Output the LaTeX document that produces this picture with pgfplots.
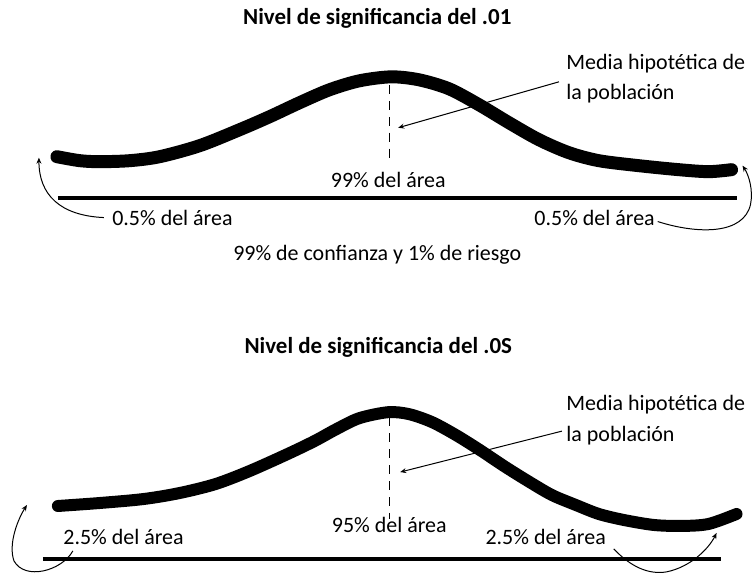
\documentclass[border=0pt]{standalone}
\usepackage{pgfplots}
\pgfplotsset{compat=1.18}
\usetikzlibrary{arrows.meta}
\usepackage{fontspec}
\setmainfont{Carlito}
\newcommand{\tx}{\fontsize{22}{26}\selectfont}
\newcommand{\ttl}{\fontsize{23}{27}\selectfont\bfseries}
\begin{document}
\begin{tikzpicture}
\begin{axis}[scale only axis, width=754pt, height=577pt,
  xmin=0, xmax=754, ymin=0, ymax=577, y dir=reverse,
  axis lines=none, clip=false]
\path (axis cs:0,0) (axis cs:754,577);
% ---------- top panel ----------
\node[font=\ttl] at (axis cs:378,18) {Nivel de significancia del .01};
\addplot[line width=13pt, smooth, line cap=round] coordinates {
(57,157) (80,161) (100,162) (130,161) (160,157) (200,146) (240,130) (270,117)
(300,103) (330,90) (360,81) (392,77) (420,80) (450,89) (480,105) (510,123)
(540,140) (570,153) (600,161) (640,166) (680,170) (710,172) (733,170)};
\addplot[line width=4pt] coordinates {(58,198) (738,198)};
\addplot[line width=1.3pt, dash pattern=on 9pt off 7pt] coordinates {(390,85) (390,162)};
\node[font=\tx] at (axis cs:389,180) {99\% del área};
\node[font=\tx, anchor=west] at (axis cs:109,218) {0.5\% del área};
\node[font=\tx, anchor=west] at (axis cs:532,218) {0.5\% del área};
\node[font=\tx, anchor=west] at (axis cs:564,64) {Media hipotética de};
\node[font=\tx, anchor=west] at (axis cs:564,94) {la población};
\draw[-{Stealth[length=6pt,width=5pt]}, line width=1pt] (axis cs:560,82) -- (axis cs:399,128);
\draw[-{Stealth[length=6pt,width=5pt]}, line width=1pt] (axis cs:104,218) .. controls (axis cs:60,216) and (axis cs:39,195) .. (axis cs:39,158);
\draw[-{Stealth[length=6pt,width=5pt]}, line width=1pt] (axis cs:659,222) .. controls (axis cs:700,235) and (axis cs:745,235) .. (axis cs:752,205) .. controls (axis cs:755,190) and (axis cs:750,175) .. (axis cs:744,166);
\node[font=\tx] at (axis cs:378,255) {99\% de confianza y 1\% de riesgo};
% ---------- bottom panel ----------
\node[font=\ttl] at (axis cs:379,348) {Nivel de significancia del .0S};
\addplot[line width=12pt, smooth, line cap=round] coordinates {
(58,507) (100,504) (144,500) (180,494) (216,485) (250,472) (288,455) (315,442)
(337,430) (360,419) (389,413) (410,415) (433,423) (457,436) (481,451) (505,467)
(529,482) (553,496) (577,506) (600,515) (625,521) (655,526) (683,527) (710,525) (738,515)};
\addplot[line width=4pt] coordinates {(43,560) (722,560)};
\addplot[line width=1.3pt, dash pattern=on 9pt off 7pt] coordinates {(390,418) (390,520)};
\node[font=\tx] at (axis cs:390,526) {95\% del área};
\node[font=\tx, anchor=west] at (axis cs:60,538) {2.5\% del área};
\node[font=\tx, anchor=west] at (axis cs:483,538) {2.5\% del área};
\node[font=\tx, anchor=west] at (axis cs:564,405) {Media hipotética de};
\node[font=\tx, anchor=west] at (axis cs:564,437) {la población};
\draw[-{Stealth[length=6pt,width=5pt]}, line width=1pt] (axis cs:563,432) -- (axis cs:401,473);
\draw[-{Stealth[length=6pt,width=5pt]}, line width=1pt] (axis cs:73,552) .. controls (axis cs:62,572) and (axis cs:25,582) .. (axis cs:14,562) .. controls (axis cs:8,545) and (axis cs:18,520) .. (axis cs:27,506);
\draw[-{Stealth[length=6pt,width=5pt]}, line width=1pt] (axis cs:615,550) .. controls (axis cs:632,568) and (axis cs:650,576) .. (axis cs:668,573) .. controls (axis cs:692,568) and (axis cs:710,550) .. (axis cs:718,534);
\end{axis}
\end{tikzpicture}
\end{document}
